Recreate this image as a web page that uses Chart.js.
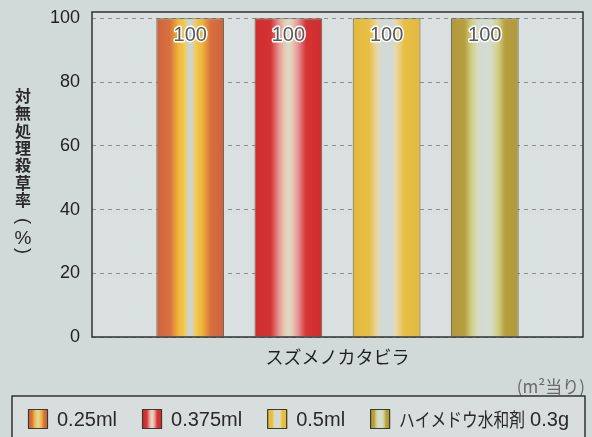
<!DOCTYPE html>
<html lang="ja">
<head>
<meta charset="utf-8">
<script src="https://cdn.jsdelivr.net/npm/chart.js@4.4.1/dist/chart.umd.min.js"></script>
<style>
  html, body { margin: 0; padding: 0; background: #d1dad9; }
  #wrap { width: 592px; height: 437px; }
</style>
</head>
<body>
<div id="wrap"><canvas id="chart" width="592" height="437"></canvas></div>
<script>
// data
const categories = ['スズメノカタビラ'];
const seriesLabels = ['0.25ml', '0.375ml', '0.5ml', 'ハイメドウ水和剤 0.3g'];
const values025 = [100];
const values0375 = [100];
const values05 = [100];
const valuesHaimedo = [100];
const yTicks = [0, 20, 40, 60, 80, 100];
const yAxisTitle = '対無処理殺草率(%)';
const unitNote = '(m²当り)';

const seriesValues = [values025, values0375, values05, valuesHaimedo];

// half of each bar's horizontal gradient (edge -> centre), mirrored later
const barStops = [
  [[0, '#cf633d'], [0.2, '#d8703f'], [0.32, '#efb437'], [0.42, '#f1cb58'], [0.48, '#ccd5d2']],
  [[0, '#d02d2d'], [0.24, '#d53434'], [0.37, '#e89c9c'], [0.45, '#e6cfb3'], [0.5, '#dbdbc7']],
  [[0, '#e3ba3e'], [0.24, '#e6bf45'], [0.36, '#e9d8a6'], [0.42, '#d2dad7'], [0.5, '#d2dad7']],
  [[0, '#b1993c'], [0.2, '#b79f40'], [0.3, '#cece80'], [0.4, '#d6dcc4'], [0.5, '#d3dbd8']]
];

const numFont = "'Liberation Sans', Arial, sans-serif";
const jpFont = "'Noto Sans CJK JP', sans-serif";

function makeGradient(ctx, x0, x1, idx) {
  const g = ctx.createLinearGradient(x0, 0, x1, 0);
  const half = barStops[idx];
  half.forEach(s => g.addColorStop(s[0], s[1]));
  for (let i = half.length - 1; i >= 0; i--) {
    const p = 1 - half[i][0];
    if (p > 0.5) g.addColorStop(p, half[i][1]);
  }
  return g;
}

// plot background, bar gradients, frame, labels and legend
const decorPlugin = {
  id: 'decor',
  beforeDraw(chart) {
    const { ctx, chartArea: a } = chart;
    ctx.save();
    ctx.fillStyle = '#d1dad9';
    ctx.fillRect(0, 0, chart.width, chart.height);
    ctx.fillStyle = '#dae0df';
    ctx.fillRect(a.left, a.top, a.right - a.left, a.bottom - a.top);
    ctx.restore();
  },
  beforeDatasetsDraw(chart) {
    const ctx = chart.ctx;
    chart.data.datasets.forEach((ds, i) => {
      chart.getDatasetMeta(i).data.forEach(el => {
        el.options.backgroundColor = makeGradient(ctx, el.x - el.width / 2, el.x + el.width / 2, i);
      });
    });
  },
  afterDatasetsDraw(chart) {
    const { ctx, chartArea: a } = chart;
    ctx.save();
    // frame
    ctx.strokeStyle = '#2f3330';
    ctx.lineWidth = 1.5;
    ctx.strokeRect(a.left, a.top, a.right - a.left, a.bottom - a.top);

    // value labels inside bar tops
    ctx.font = '20px ' + numFont;
    ctx.textAlign = 'center';
    ctx.textBaseline = 'middle';
    ctx.lineJoin = 'round';
    chart.data.datasets.forEach((ds, i) => {
      chart.getDatasetMeta(i).data.forEach((el, j) => {
        const txt = String(ds.data[j]);
        ctx.lineWidth = 3;
        ctx.strokeStyle = '#ffffff';
        ctx.strokeText(txt, el.x, el.y + 17);
        ctx.fillStyle = '#5a5a5a';
        ctx.fillText(txt, el.x, el.y + 17);
      });
    });

    // vertical y axis title
    let y = 96;
    const cx = 23;
    for (const ch of yAxisTitle) {
      ctx.save();
      ctx.fillStyle = '#2a2a2a';
      if (ch === '(' || ch === ')') {
        ctx.font = '18px ' + numFont;
        ctx.translate(cx, y + 4);
        ctx.rotate(Math.PI / 2);
        ctx.fillText(ch, 0, 0);
        y += 16;
      } else if (ch === '%') {
        ctx.font = '19px ' + numFont;
        ctx.fillText(ch, cx, y + 6);
        y += 14;
      } else {
        ctx.font = 'bold 16px ' + jpFont;
        ctx.fillText(ch, cx, y);
        y += 17.3;
      }
      ctx.restore();
    }

    // unit note
    ctx.font = '17px ' + jpFont;
    ctx.textAlign = 'right';
    ctx.fillStyle = '#6a6a6a';
    ctx.fillText(unitNote, 585, 387);

    // legend box
    ctx.fillStyle = '#d8dedd';
    ctx.fillRect(12, 396, 573, 50);
    ctx.strokeStyle = '#2f3330';
    ctx.lineWidth = 1.5;
    ctx.strokeRect(12, 396, 573, 50);

    let x = 28;
    const sy = 409, sw = 20, sh = 20;
    ctx.textAlign = 'left';
    seriesLabels.forEach((lab, i) => {
      ctx.fillStyle = makeGradient(ctx, x, x + sw, i);
      ctx.fillRect(x, sy, sw, sh);
      ctx.strokeStyle = '#3a3a30';
      ctx.lineWidth = 1.2;
      ctx.strokeRect(x + 0.5, sy + 0.5, sw - 1, sh - 1);
      ctx.fillStyle = '#2a2a2a';
      let tx = x + 29;
      const ty = sy + sh / 2 + 1;
      // split a Japanese name from its trailing amount so kana can be narrowed
      const m = lab.match(/^(.*[\u3040-\u9fff])\s+(.+)$/);
      if (m) {
        ctx.font = '19px ' + jpFont;
        const jw = Math.min(ctx.measureText(m[1]).width, 126);
        ctx.fillText(m[1], tx, ty, 126);
        tx += jw + 5;
        ctx.font = '20px ' + numFont;
        ctx.fillText(m[2], tx, ty);
        tx += ctx.measureText(m[2]).width;
      } else {
        ctx.font = '20px ' + numFont;
        ctx.fillText(lab, tx, ty);
        tx += ctx.measureText(lab).width;
      }
      x = tx + 25;
    });
    ctx.restore();
  }
};

const colorsPlain = ['#d8703f', '#d53434', '#e6bf45', '#b79f40'];

const chart = new Chart(document.getElementById('chart'), {
  type: 'bar',
  data: {
    labels: categories,
    datasets: seriesLabels.map((lab, i) => ({
      label: lab,
      data: seriesValues[i],
      backgroundColor: colorsPlain[i],
      borderColor: '#5d6350',
      borderWidth: { left: 1, right: 1, top: 1, bottom: 0 },
      borderSkipped: false,
      categoryPercentage: 0.8,
      barPercentage: 0.69
    }))
  },
  options: {
    responsive: false,
    animation: false,
    layout: { padding: { top: 12, right: 9, left: 0, bottom: 0 } },
    plugins: {
      legend: { display: false },
      tooltip: { enabled: false }
    },
    scales: {
      x: {
        grid: { display: false, drawTicks: false },
        border: { display: false },
        ticks: {
          padding: 9,
          color: '#1f1f1f',
          font: { family: jpFont, size: 18 }
        },
        afterFit(scale) {
          scale.height = 100;
          scale.paddingLeft = 0;
          scale.paddingRight = 0;
        }
      },
      y: {
        min: 0,
        max: 102,
        grid: { color: '#8a8f8c', lineWidth: 1, drawTicks: false },
        border: { display: false, dash: [4, 4] },
        ticks: {
          padding: 12,
          color: '#222222',
          font: { family: numFont, size: 18 }
        },
        afterBuildTicks(scale) { scale.ticks = yTicks.map(v => ({ value: v })); },
        afterFit(scale) {
          scale.width = 92;
          scale.paddingTop = 0;
          scale.paddingBottom = 0;
        }
      }
    }
  },
  plugins: [decorPlugin]
});
</script>
</body>
</html>
